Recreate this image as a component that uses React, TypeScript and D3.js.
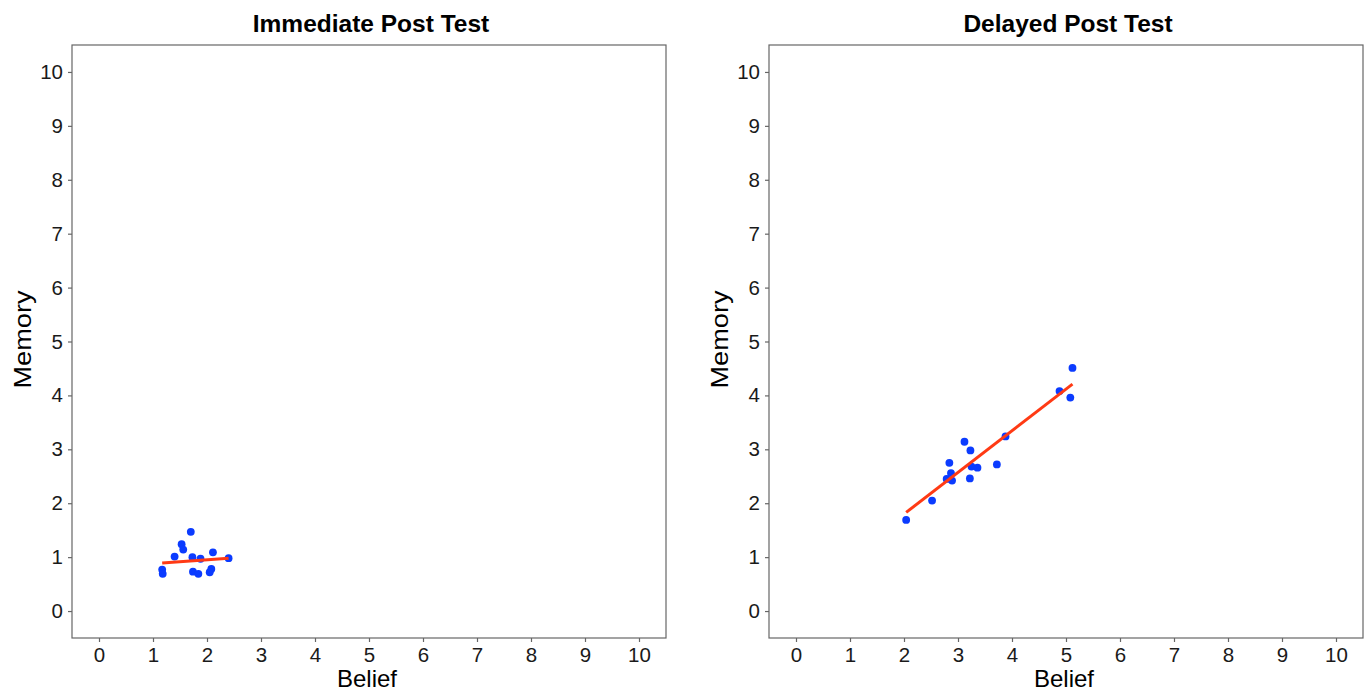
import React, { useEffect, useRef } from 'react';
import * as d3 from 'd3';

// panel titles
const panelTitles = ['Immediate Post Test', 'Delayed Post Test'];

// immediate post test: belief / memory
const immBelief = [1.70, 1.53, 1.56, 1.40, 1.73, 1.88, 2.11, 2.40, 1.17, 1.18, 1.74, 1.84, 2.08, 2.05];
const immMemory = [1.47, 1.24, 1.14, 1.01, 1.00, 0.97, 1.09, 0.98, 0.77, 0.69, 0.73, 0.69, 0.78, 0.72];
// fitted line: [belief, memory] at both ends
const immFit = [[1.17, 0.89], [2.40, 0.98]];

// delayed post test: belief / memory
const delBelief = [2.04, 2.52, 2.79, 2.87, 2.89, 2.84, 3.12, 3.23, 3.25, 3.36, 3.22, 3.72, 3.88, 4.88, 5.08, 5.12];
const delMemory = [1.69, 2.05, 2.45, 2.56, 2.42, 2.75, 3.14, 2.98, 2.68, 2.66, 2.46, 2.72, 3.24, 4.08, 3.96, 4.51];
const delFit = [[2.04, 1.83], [5.12, 4.21]];

const axisTicks = [0, 1, 2, 3, 4, 5, 6, 7, 8, 9, 10];

const W = 1372;
const H = 694;

function App() {
  const ref = useRef<SVGSVGElement>(null);

  useEffect(() => {
    const svg = d3.select(ref.current);
    svg.selectAll('*').remove();
    const font = '"Liberation Sans", Arial, sans-serif';

    const panels = [
      { left: 72, xs: immBelief, ys: immMemory, fit: immFit },
      { left: 769, xs: delBelief, ys: delMemory, fit: delFit },
    ];
    const top = 45, bottom = 638, pw = 594;

    panels.forEach((p, k) => {
      const x = d3.scaleLinear().domain([-0.5, 10.5]).range([p.left, p.left + pw]);
      const y = d3.scaleLinear().domain([-0.5, 10.5]).range([bottom, top]);
      const g = svg.append('g');

      g.append('rect')
        .attr('x', p.left).attr('y', top)
        .attr('width', pw).attr('height', bottom - top)
        .attr('fill', 'none').attr('stroke', '#666').attr('stroke-width', 1.2);

      const xa = g.append('g')
        .attr('transform', `translate(0,${bottom})`)
        .call(d3.axisBottom(x).tickValues(axisTicks).tickSize(4).tickPadding(5));
      const ya = g.append('g')
        .attr('transform', `translate(${p.left},0)`)
        .call(d3.axisLeft(y).tickValues(axisTicks).tickSize(4).tickPadding(5));
      [xa, ya].forEach(a => {
        a.select('.domain').remove();
        a.selectAll('line').attr('stroke', '#666').attr('stroke-width', 1.2);
        a.selectAll('text')
          .attr('fill', '#1a1a1a')
          .style('font-family', font)
          .style('font-size', '20.5px');
      });

      g.selectAll('circle.pt')
        .data(p.xs)
        .enter()
        .append('circle')
        .attr('class', 'pt')
        .attr('cx', d => x(d))
        .attr('cy', (d, i) => y(p.ys[i]))
        .attr('r', 3.9)
        .attr('fill', '#0b3bff');

      g.append('path')
        .attr('d', d3.line()(p.fit.map(([a, b]) => [x(a), y(b)]) as [number, number][]))
        .attr('stroke', '#ff3a14')
        .attr('stroke-width', 3)
        .attr('fill', 'none');

      g.append('text')
        .attr('x', p.left + pw / 2 + 2).attr('y', 32)
        .attr('text-anchor', 'middle')
        .style('font-family', font).style('font-size', '24.5px').style('font-weight', 'bold')
        .text(panelTitles[k]);

      g.append('text')
        .attr('x', p.left + pw / 2 - 2).attr('y', 687)
        .attr('text-anchor', 'middle')
        .style('font-family', font).style('font-size', '24px')
        .text('Belief');

      g.append('text')
        .attr('transform', `translate(${p.left - 41},${(top + bottom) / 2 - 2}) rotate(-90)`)
        .attr('text-anchor', 'middle')
        .attr('textLength', 98)
        .attr('lengthAdjust', 'spacingAndGlyphs')
        .style('font-family', font).style('font-size', '23.5px')
        .text('Memory');
    });
  }, []);

  return <svg ref={ref} width={W} height={H} style={{ position: 'absolute', left: 0, top: 0, background: '#fff' }} />;
}

export default App;
